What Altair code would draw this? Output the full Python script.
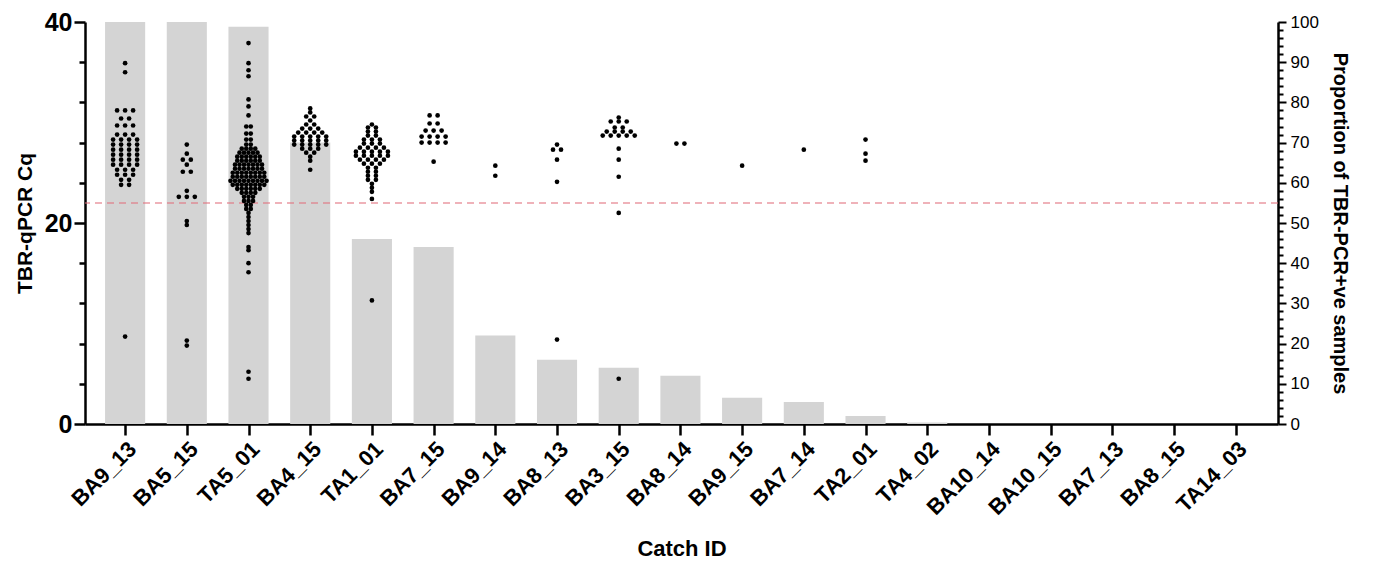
import altair as alt
import pandas as pd

# ---------------- data ----------------
categories = ["BA9_13", "BA5_15", "TA5_01", "BA4_15", "TA1_01", "BA7_15", "BA9_14",
              "BA8_13", "BA3_15", "BA8_14", "BA9_15", "BA7_14", "TA2_01", "TA4_02",
              "BA10_14", "BA10_15", "BA7_13", "BA8_15", "TA14_03"]

# proportion of TBR-PCR+ve samples (right axis, %)
proportion = [100, 100, 98.8, 70, 46, 44, 22, 16, 14, 12, 6.5, 5.5, 2, 0.4,
              0, 0, 0, 0, 0]

# Cq values per catch, as (Cq, number of samples at that level)
cq_BA9_13 = [(35.9, 1), (35.0, 1), (31.2, 3), (30.4, 2), (29.7, 3), (28.8, 3), (28.3, 4),
             (27.8, 4), (27.3, 4), (26.8, 4), (26.3, 4), (25.8, 4), (25.3, 3), (24.8, 3),
             (24.3, 2), (23.8, 2), (8.7, 1)]
cq_BA5_15 = [(27.8, 1), (26.9, 1), (26.3, 2), (25.8, 1), (25.1, 2), (23.2, 1), (22.6, 3),
             (20.2, 1), (19.8, 1), (8.3, 1), (7.8, 1)]
cq_TA5_01 = [(37.9, 1), (35.9, 1), (35.2, 1), (34.6, 1), (32.3, 1), (31.6, 1), (30.7, 1),
             (29.6, 2), (28.9, 2), (28.3, 2), (27.8, 2), (27.4, 4), (27.0, 5), (26.6, 6),
             (26.2, 6), (25.8, 7), (25.4, 7), (25.0, 8), (24.6, 8), (24.2, 9), (23.8, 8),
             (23.4, 6), (23.0, 4), (22.6, 3), (22.2, 3), (21.8, 2), (21.4, 2), (21.0, 1),
             (20.6, 1), (20.2, 1), (19.8, 1), (19.4, 1), (19.0, 1), (17.6, 1), (17.3, 1),
             (16.0, 1), (15.1, 1), (5.2, 1), (4.5, 1)]
cq_BA4_15 = [(31.4, 1), (31.0, 1), (30.6, 2), (30.2, 1), (29.8, 2), (29.4, 3), (29.0, 4),
             (28.6, 5), (28.2, 5), (27.8, 5), (27.4, 3), (27.0, 2), (26.6, 1), (26.2, 1),
             (25.3, 1)]
cq_TA1_01 = [(29.8, 1), (29.5, 2), (29.1, 2), (28.7, 2), (28.3, 3), (27.9, 3), (27.5, 4),
             (27.1, 5), (26.7, 5), (26.3, 4), (25.9, 3), (25.5, 2), (25.1, 2), (24.7, 2),
             (24.3, 2), (23.9, 1), (23.5, 1), (23.1, 1), (22.4, 1), (12.3, 1)]
cq_BA7_15 = [(30.7, 2), (29.9, 2), (29.2, 3), (28.6, 4), (28.0, 4), (26.1, 1)]
cq_BA9_14 = [(25.7, 1), (24.7, 1)]
cq_BA8_13 = [(27.8, 1), (27.3, 2), (26.3, 1), (24.1, 1), (8.4, 1)]
cq_BA3_15 = [(30.5, 1), (30.1, 3), (29.5, 2), (29.1, 4), (28.7, 5), (27.4, 1), (26.3, 1),
             (24.6, 1), (21.0, 1), (4.5, 1)]
cq_BA8_14 = [(27.9, 2)]
cq_BA9_15 = [(25.7, 1)]
cq_BA7_14 = [(27.3, 1)]
cq_TA2_01 = [(28.3, 1), (26.9, 1), (26.2, 1)]

cq_threshold = 22

cq_groups = {
    "BA9_13": cq_BA9_13, "BA5_15": cq_BA5_15, "TA5_01": cq_TA5_01, "BA4_15": cq_BA4_15,
    "TA1_01": cq_TA1_01, "BA7_15": cq_BA7_15, "BA9_14": cq_BA9_14, "BA8_13": cq_BA8_13,
    "BA3_15": cq_BA3_15, "BA8_14": cq_BA8_14, "BA9_15": cq_BA9_15, "BA7_14": cq_BA7_14,
    "TA2_01": cq_TA2_01,
}

# ---------------- layout constants ----------------
PLOT_W, PLOT_H = 1193, 402
STEP_PX = 61.7                    # px per category
BAR_HALF = 0.325                  # half bar width, in category units
X_DOMAIN = [-0.65, 18.685]

# ---------------- build tables ----------------
bar_df = pd.DataFrame({"idx": list(range(len(categories))), "cat": categories,
                       "prop": proportion})

rows = []
for cat, levels in cq_groups.items():
    idx = categories.index(cat)
    total = sum(c for _, c in levels)
    sp = 4.5 if total > 80 else 8.0   # column-scatter spacing (px)
    for v, c in levels:
        for i in range(c):
            rows.append({"cat": cat, "cq": v,
                         "xpos": idx + (i - (c - 1) / 2) * sp / STEP_PX})
pt_df = pd.DataFrame(rows)

FONT = "Liberation Sans"
label_js = "[" + ",".join("'%s'" % c for c in categories) + "][datum.value]"

x_scale = alt.Scale(domain=X_DOMAIN, nice=False, zero=False)
x_axis = alt.Axis(title="Catch  ID", values=list(range(len(categories))), labelExpr=label_js,
                  labelAngle=-45, labelAlign="right", labelBaseline="top",
                  labelFontSize=22, labelFontWeight="bold",
                  labelFont=FONT, labelPadding=3, tickSize=11, tickWidth=2.5,
                  domainWidth=2.5, titleFontSize=22, titleFontWeight="bold", titleFont=FONT,
                  titlePadding=20, labelOverlap=False, grid=False)

bars = alt.Chart(bar_df).transform_calculate(
    x0=f"datum.idx - {BAR_HALF}", x1=f"datum.idx + {BAR_HALF}"
).mark_rect(color="#d4d4d4").encode(
    x=alt.X("x0:Q", scale=x_scale, axis=x_axis),
    x2="x1:Q",
    y=alt.Y("prop:Q", scale=alt.Scale(domain=[0, 100], nice=False),
            axis=alt.Axis(orient="right", title="Proportion of TBR-PCR+ve samples",
                          values=list(range(0, 101, 2)),
                          labelExpr="datum.value % 10 === 0 ? datum.label : ''",
                          tickSize={"condition": {"test": "datum.value % 10 === 0", "value": 8}, "value": 5},
                          tickWidth=2, domainWidth=2.5, labelFontSize=17, labelFont=FONT,
                          labelPadding=4, labelOverlap=False, titleAngle=90, titleFontSize=20,
                          titleFontWeight="bold", titleFont=FONT, titlePadding=11, grid=False)),
    y2=alt.datum(0),
)

points = alt.Chart(pt_df).mark_circle(color="black", size=22, opacity=1).encode(
    x=alt.X("xpos:Q", scale=x_scale, axis=x_axis),
    y=alt.Y("cq:Q", scale=alt.Scale(domain=[0, 40], nice=False),
            axis=alt.Axis(orient="left", title="TBR-qPCR Cq",
                          values=list(range(0, 41, 2)),
                          labelExpr="datum.value % 10 === 0 ? datum.label : ''",
                          tickSize={"condition": {"test": "datum.value % 10 === 0", "value": 11}, "value": 6},
                          tickWidth=2.5, domainWidth=2.5, labelFontSize=25, labelFontWeight="bold",
                          labelFont=FONT, labelPadding=2, labelOverlap=False, titleFontSize=21,
                          titleFontWeight="bold", titleFont=FONT, titlePadding=9, grid=False)),
)

thr_df = pd.DataFrame({"cq": [cq_threshold]})
rule = alt.Chart(thr_df).mark_rule(color="#e06c7a", strokeDash=[7, 5], strokeWidth=1.5,
                                   opacity=0.7).encode(y="cq:Q")

left = alt.layer(rule, points)
chart = alt.layer(bars, left).resolve_scale(y="independent").properties(
    width=PLOT_W, height=PLOT_H,
    autosize=alt.AutoSizeParams(type="none"),
    padding={"left": 77, "top": 14, "right": 86, "bottom": 137},
).configure_view(stroke=None).configure_axis(domainColor="black", tickColor="black",
                                             labelColor="black", titleColor="black")

chart.save("out.html", embed_options={"renderer": "svg", "actions": False})
